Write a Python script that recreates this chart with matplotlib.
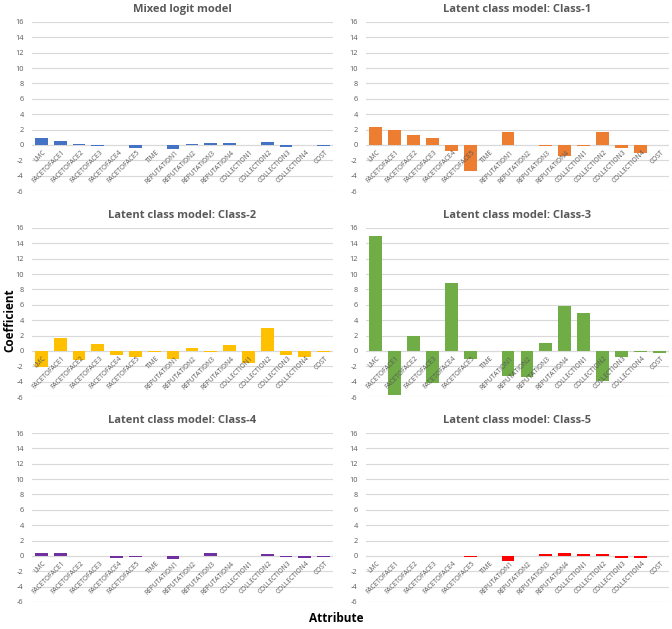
import matplotlib
matplotlib.use('Agg')
import matplotlib.pyplot as plt
import matplotlib.transforms as mtrans
import numpy as np

attributes = ['LMC', 'FACETOFACE1', 'FACETOFACE2', 'FACETOFACE3', 'FACETOFACE4', 'FACETOFACE5',
              'TIME', 'REPUTATION1', 'REPUTATION2', 'REPUTATION3', 'REPUTATION4',
              'COLLECTION1', 'COLLECTION2', 'COLLECTION3', 'COLLECTION4', 'COST']

mixed_logit = [0.9, 0.45, 0.07, -0.08, 0.0, -0.35, 0.0, -0.5, 0.15, 0.25, 0.2, 0.0, 0.4, -0.25, 0.0, -0.08]
class1 = [2.35, 1.95, 1.3, 0.9, -0.75, -3.4, 0.0, 1.65, 0.0, -0.1, -1.5, -0.1, 1.65, -0.35, -1.1, 0.0]
class2 = [-2.1, 1.7, -1.2, 0.85, -0.55, -0.8, -0.1, -1.1, 0.35, -0.1, 0.75, -1.6, 3.0, -0.55, -0.85, -0.1]
class3 = [14.9, -5.7, 1.95, -4.2, 8.9, -1.1, 0.0, -3.3, -3.4, 1.0, 5.8, 4.9, -3.9, -0.85, -0.2, -0.25]
class4 = [0.4, 0.4, 0.0, 0.0, -0.3, -0.15, 0.0, -0.45, 0.0, 0.35, 0.05, 0.05, 0.3, -0.1, -0.3, -0.1]
class5 = [0.05, 0.05, 0.0, 0.0, -0.03, -0.1, -0.05, -0.65, 0.0, 0.2, 0.4, 0.25, 0.2, -0.25, -0.3, -0.03]

titles = ['Mixed logit model', 'Latent class model: Class-1', 'Latent class model: Class-2',
          'Latent class model: Class-3', 'Latent class model: Class-4', 'Latent class model: Class-5']
series = [mixed_logit, class1, class2, class3, class4, class5]
colors = ['#4472C4', '#ED7D31', '#FFC000', '#70AD47', '#7030A0', '#FF0000']

plt.rcParams['font.family'] = ['Open Sans', 'DejaVu Sans']
plt.rcParams['axes.unicode_minus'] = False

fig = plt.figure(figsize=(6.72, 6.29), dpi=100)

W, H = 672, 629
cols = [(32, 333), (366, 669)]
rows = [(22, 191), (228, 397), (433, 602)]

x = np.arange(len(attributes))
for k, (title, vals, col) in enumerate(zip(titles, series, colors)):
    r, c = divmod(k, 2)
    x0, x1 = cols[c]
    ytop, ybot = rows[r]
    ax = fig.add_axes([x0 / W, 1 - ybot / H, (x1 - x0) / W, (ybot - ytop) / H])
    ax.bar(x, vals, width=0.68, color=col, zorder=3)
    ax.set_ylim(-6, 16)
    ax.set_xlim(-0.5, len(attributes) - 0.5)
    ax.set_yticks(range(-6, 17, 2))
    ax.grid(axis='y', color='#D9D9D9', linewidth=0.8, zorder=0)
    ax.axhline(0, color='#D9D9D9', linewidth=0.8, zorder=1)
    for s in ax.spines.values():
        s.set_visible(False)
    ax.tick_params(axis='y', length=0, labelsize=5.3, labelcolor='#595959', pad=6)
    ax.set_xticks([])
    off = mtrans.offset_copy(ax.transData, fig=fig, x=1, y=-3, units='points')
    for i, lab in enumerate(attributes):
        ax.text(i, 0, lab, transform=off, rotation=45, rotation_mode='anchor',
                ha='right', va='top', fontsize=4.8, color='#595959', zorder=4)
    ax.set_title(title, fontsize=8, fontweight='bold', color='#595959', pad=7)

fig.text(10 / W, 1 - 320 / H, 'Coefficient', rotation=90, fontsize=8.5, fontweight='bold',
         ha='center', va='center')
fig.text(336 / W, 1 - 618 / H, 'Attribute', fontsize=8.5, fontweight='bold',
         ha='center', va='center')

fig.savefig('out.png', dpi=100, facecolor='white')
